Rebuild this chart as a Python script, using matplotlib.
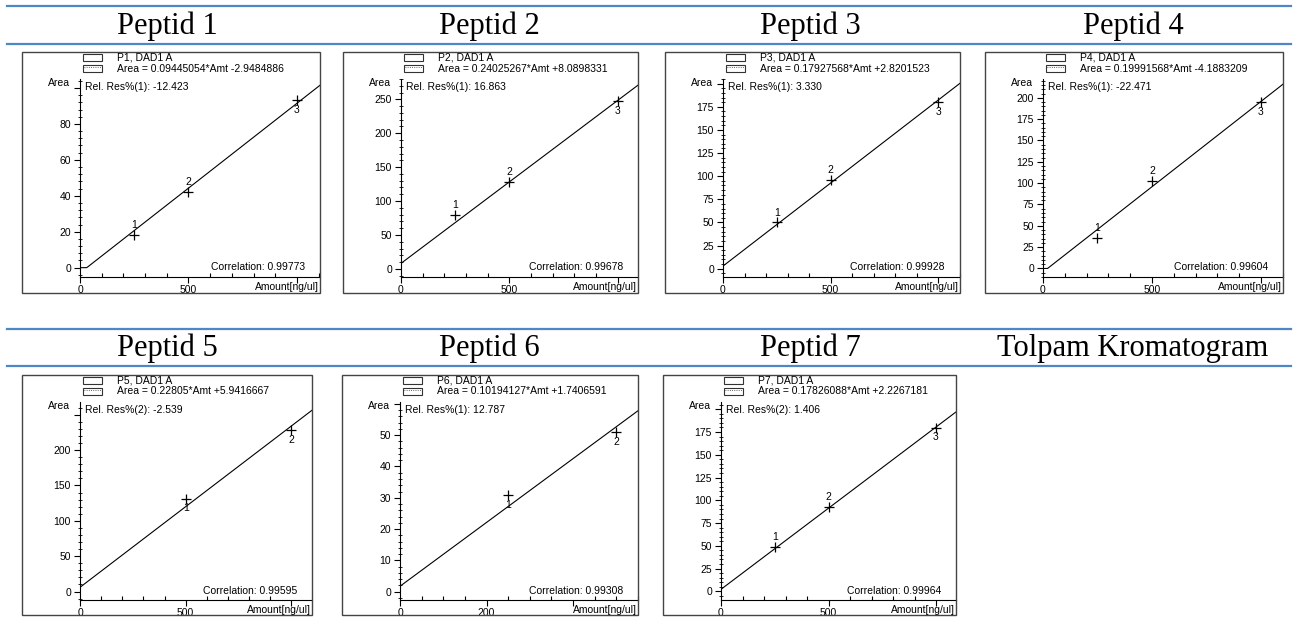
import numpy as np
import matplotlib
matplotlib.use("Agg")
import matplotlib.pyplot as plt
from matplotlib.patches import Rectangle
from matplotlib.lines import Line2D
from matplotlib.ticker import MultipleLocator, AutoMinorLocator, FuncFormatter

plt.rcParams['font.family'] = ['Liberation Sans', 'DejaVu Sans']

W, H = 1294, 617

# --- data ---
titles = ['Peptid 1', 'Peptid 2', 'Peptid 3', 'Peptid 4',
          'Peptid 5', 'Peptid 6', 'Peptid 7', 'Tolpam Kromatogram']
peaks = ['P1', 'P2', 'P3', 'P4', 'P5', 'P6', 'P7']
slopes = [0.09445054, 0.24025267, 0.17927568, 0.19991568, 0.22805, 0.10194127, 0.17826088]
intercepts = [-2.9484886, 8.0898331, 2.8201523, -4.1883209, 5.9416667, 1.7406591, 2.2267181]
res_level = [1, 1, 1, 1, 2, 1, 2]
rel_res = [-12.423, 16.863, 3.330, -22.471, -2.539, 12.787, 1.406]
correlations = [0.99773, 0.99678, 0.99928, 0.99604, 0.99595, 0.99308, 0.99964]
amounts = [[250, 500, 1000], [250, 500, 1000], [250, 500, 1000], [250, 500, 1000],
           [500, 1000], [250, 500], [250, 500, 1000]]
areas = [[18.3, 42.3, 93.4], [80, 128.5, 247], [50, 96, 180], [36, 103, 195],
         [131.5, 228.5], [30.8, 51], [49, 92.8, 179.7]]

# axis ranges / ticks
x_max = [1106, 1094, 1102, 1101, 1098, 550, 1093]
y_min = [-5.2, -12, -9, -10, -12, -2.65, -9.5]
y_max = [105, 280, 205, 222, 268, 60.6, 208]
y_step = [20, 50, 25, 25, 50, 10, 25]
x_step = [500, 500, 500, 500, 500, 200, 500]
x_minor = [100, 100, 100, 100, 100, 50, 100]

# layout in pixels: frame left, right, top, bottom
boxes = [(22, 320, 52, 293), (343, 638, 52, 293), (665, 960, 52, 293), (985, 1283, 52, 293),
         (22, 312, 375, 615), (342, 638, 375, 615), (663, 956, 375, 615)]
title_x = [167, 489, 810, 1133]
title_base = [34, 356]
rules = [(6, 44), (329, 366)]


def fx(px):
    return px / W


def fy(py):
    return 1 - py / H


fig = plt.figure(figsize=(W / 100, H / 100), dpi=100)

blue = '#4f86c6'
for r0, r1 in rules:
    for yy in (r0, r1):
        fig.add_artist(Line2D([fx(7), fx(1291)], [fy(yy), fy(yy)], color=blue, lw=1.6))

for i, t in enumerate(titles):
    fig.text(fx(title_x[i % 4]), fy(title_base[i // 4]), t, family='Liberation Serif',
             fontsize=22, ha='center', va='baseline')

fs = 7.5
for i in range(7):
    x0, x1, top, bot = boxes[i]
    fig.add_artist(Rectangle((fx(x0), fy(bot)), (x1 - x0) / W, (bot - top) / H,
                             fill=False, ec='#444444', lw=1))

    ax_l = x0 + 58
    ax_t = top + 27
    ax_b = top + 225
    ax = fig.add_axes([fx(ax_l), fy(ax_b), (x1 - ax_l) / W, (ax_b - ax_t) / H])
    ax.patch.set_visible(False)
    for s in ('top', 'right'):
        ax.spines[s].set_visible(False)
    for s in ('left', 'bottom'):
        ax.spines[s].set_linewidth(0.8)

    ax.set_xlim(0, x_max[i])
    ax.set_ylim(y_min[i], y_max[i])

    xs = np.linspace(0, x_max[i], 400)
    ax.plot(xs, np.maximum(slopes[i] * xs + intercepts[i], 0), color='k', lw=0.8)
    ax.plot(amounts[i], areas[i], 'k+', ms=7, mew=0.9)
    n = len(amounts[i])
    for j, (a, v) in enumerate(zip(amounts[i], areas[i])):
        below = (j == n - 1) or n == 2
        ax.annotate(str(j + 1), (a, v), xytext=(0, -7 if below else 7),
                    textcoords='offset points', ha='center', va='center', fontsize=fs)

    xst = x_step[i]
    ax.xaxis.set_major_locator(MultipleLocator(xst))
    ax.xaxis.set_minor_locator(MultipleLocator(x_minor[i]))
    ax.xaxis.set_major_formatter(FuncFormatter(lambda v, p, s=xst: f'{v:g}' if v < 1.5 * s else ''))
    ax.yaxis.set_major_locator(MultipleLocator(y_step[i]))
    ax.yaxis.set_minor_locator(AutoMinorLocator(5))
    cut = y_max[i] - 0.08 * (y_max[i] - y_min[i])
    ax.yaxis.set_major_formatter(FuncFormatter(lambda v, p, c=cut: f'{v:g}' if v < c else ''))

    ax.tick_params(axis='x', which='major', direction='out', length=4.5, width=0.8,
                   labelsize=fs, pad=1)
    ax.tick_params(axis='x', which='minor', direction='in', length=3, width=0.8)
    ax.tick_params(axis='y', which='major', direction='out', length=4.5, width=0.8,
                   labelsize=fs, pad=2)
    ax.tick_params(axis='y', which='minor', direction='inout', length=3, width=0.6)

    fig.text(fx(ax_l - 10), fy(ax_t + 4), 'Area', ha='right', va='center', fontsize=fs)
    fig.text(fx(ax_l + 5), fy(ax_t + 8), f'Rel. Res%({res_level[i]}): {rel_res[i]:.3f}',
             ha='left', va='center', fontsize=fs)
    fig.text(fx(x1 - 15), fy(ax_b - 9.5), f'Correlation: {correlations[i]:.5f}',
             ha='right', va='center', fontsize=fs)
    fig.text(fx(x1 - 1), fy(ax_b + 10), 'Amount[ng/ul]', ha='right', va='center', fontsize=fs)

    # legend
    fig.add_artist(Rectangle((fx(x0 + 61), fy(top + 9)), 19 / W, 7 / H,
                             fill=False, ec='#333333', lw=0.8))
    fig.add_artist(Rectangle((fx(x0 + 61), fy(top + 20)), 19 / W, 7 / H,
                             fill=False, ec='#333333', lw=0.8))
    fig.add_artist(Line2D([fx(x0 + 62), fx(x0 + 79)], [fy(top + 14.5), fy(top + 14.5)],
                          color='#333333', lw=0.6, ls=':'))
    fig.text(fx(x0 + 95), fy(top + 5.5), f'{peaks[i]}, DAD1 A', ha='left', va='center',
             fontsize=fs)
    fig.text(fx(x0 + 95), fy(top + 16.5), f'Area = {slopes[i]}*Amt {intercepts[i]:+.7f}',
             ha='left', va='center', fontsize=fs)

fig.savefig('out.png', dpi=100)
